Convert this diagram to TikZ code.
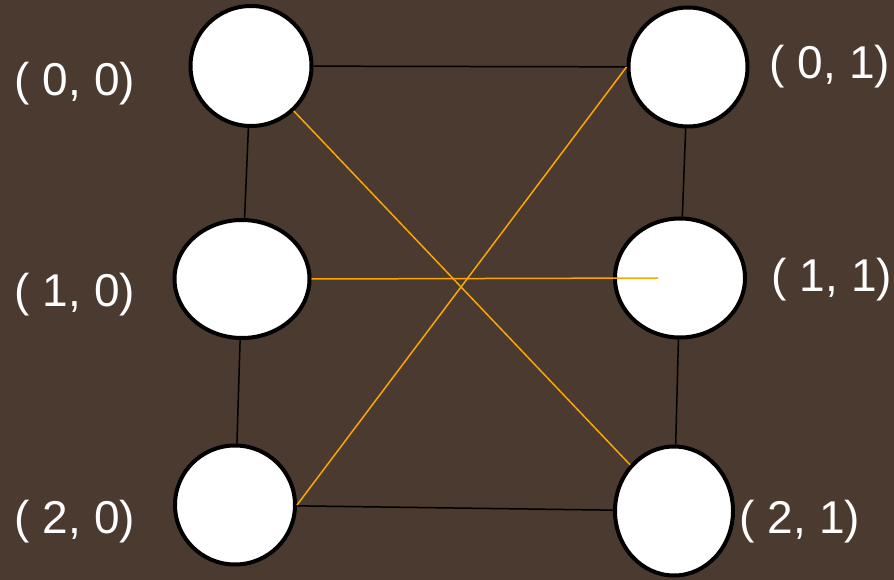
\documentclass[tikz,border=0pt]{standalone}
\usepackage{fontspec}
\setmainfont{Liberation Sans}
\usepackage{tikz}
\usetikzlibrary{shapes.geometric,calc}
\definecolor{cBack}{HTML}{4B3A30}
\definecolor{cCross}{HTML}{FFA500}

\begin{document}
\begin{tikzpicture}[
  x=1pt,y=-1pt,
  v/.style={draw=black,fill=white,ellipse,line width=4pt,inner sep=0pt},
  lb/.style={text=white,anchor=base,inner sep=0pt,
             font=\fontsize{46}{50}\selectfont},
  ed/.style={draw=black,line width=1.5pt},
  xe/.style={draw=cCross,line width=1.5pt},
  ]
  \fill[cBack] (0,0) rectangle (894,580);
  \useasboundingbox (0,0) rectangle (894,580);

  % vertices
  \node[v,minimum width=121pt,minimum height=120pt] (v00) at (251,66) {};
  \node[v,minimum width=135pt,minimum height=118pt] (v10) at (242,279) {};
  \node[v,minimum width=120pt,minimum height=119pt] (v20) at (235,505) {};
  \node[v,minimum width=119pt,minimum height=119pt] (v01) at (688,67) {};
  \node[v,minimum width=130pt,minimum height=119pt] (v11) at (680,278) {};
  \node[v,minimum width=118pt,minimum height=129pt] (v21) at (674,511) {};
  \coordinate (v11in) at (658,278);

  % labels
  \node[lb] (l00) at (75,96) {( 0, 0)};
  \node[lb] (l10) at (75,306) {( 1, 0)};
  \node[lb] (l20) at (75,533) {( 2, 0)};
  \node[lb] (l01) at (830,79) {( 0, 1)};
  \node[lb] (l11) at (832,291) {( 1, 1)};
  \node[lb] (l21) at (800,533) {( 2, 1)};

  % edges
  \draw[ed] (v00) -- (v01);
  \draw[ed] (v00) -- (v10);
  \draw[ed] (v10) -- (v20);
  \draw[ed] (v01) -- (v11);
  \draw[ed] (v11) -- (v21);
  \draw[ed] (v20) -- (v21);
  \draw[xe] (v00) -- (v21);
  \draw[xe] (v20.east) -- (v01.west);
  \draw[xe] (v10.east) -- (v11in);
\end{tikzpicture}
\end{document}
